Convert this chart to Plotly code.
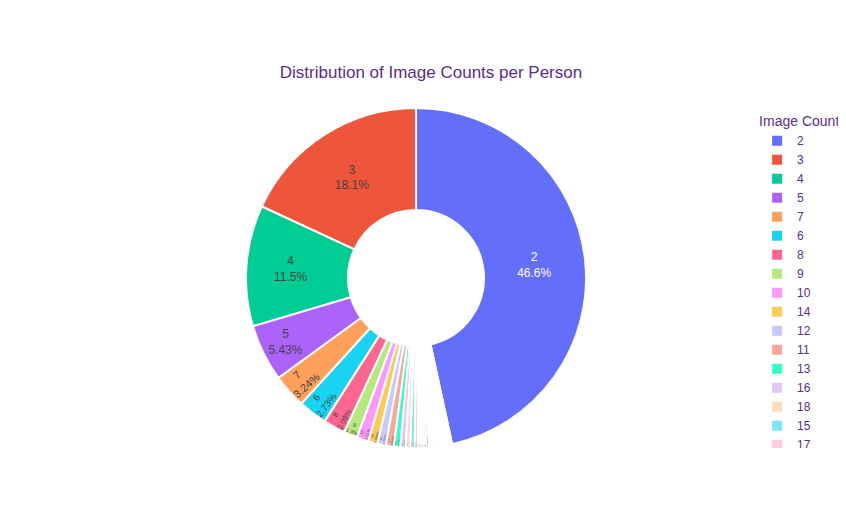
import plotly.graph_objects as go

image_counts = ["2", "3", "4", "5", "7", "6", "8", "9", "10", "14", "12", "11", "13", "16", "18", "15", "17",
                "19", "20", "21", "22", "23", "24", "25", "26", "27", "28", "30", "29", "32", "31", "35", "33",
                "40", "34", "36", "37", "39", "41", "42", "45", "48", "50", "55", "60", "70",
                "75", "80", "85", "90", "100"]
persons = [1468, 570, 362, 171, 102, 86, 66, 41, 35, 28, 25, 24, 19, 16, 14, 13, 11,
           9, 8, 8, 7, 6, 6, 5, 5, 4, 4, 4, 3, 3, 3, 2, 2,
           2, 2, 2, 1, 1, 1, 1, 1, 1, 1, 1, 1, 1,
           1, 1, 1, 1, 1]

purple = "#5E2C8C"

fig = go.Figure(go.Pie(
    labels=image_counts,
    values=persons,
    hole=0.4,
    textinfo="label+percent",
    textposition="inside",
    marker=dict(line=dict(color="white", width=2)),
))

fig.update_layout(
    width=846, height=525,
    font=dict(family="Arial, Liberation Sans, sans-serif"),
    margin=dict(t=100, b=85, l=80, r=80),
    title=dict(text="Distribution of Image Counts per Person", x=0.5, xanchor="center", y=0.89,
               font=dict(color=purple, size=17)),
    legend=dict(title=dict(text="Image Count", font=dict(color=purple)), font=dict(color=purple),
                y=1.0),
    paper_bgcolor="white",
)

fig.write_html("out.html")
